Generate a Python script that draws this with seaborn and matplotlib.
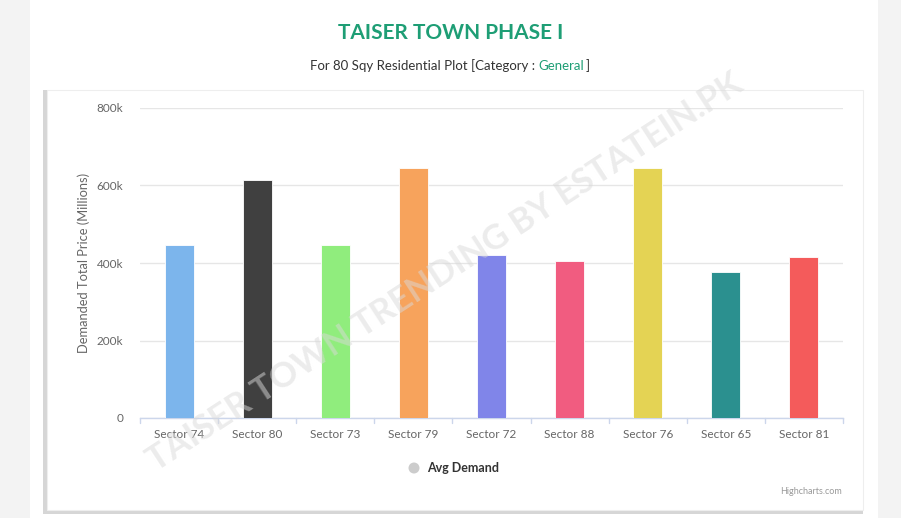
import matplotlib
matplotlib.use("Agg")
import matplotlib.pyplot as plt
import matplotlib.patches as mpatches
import seaborn as sns
import pandas as pd
from matplotlib.ticker import FuncFormatter

# ---- data ----
SECTORS = ["Sector 74", "Sector 80", "Sector 73", "Sector 79", "Sector 72",
           "Sector 88", "Sector 76", "Sector 65", "Sector 81"]
AVG_DEMAND = [447000, 614000, 446000, 645000, 421000,
              405000, 645000, 377000, 415000]
BAR_COLORS = ["#7cb5ec", "#404040", "#90ed7d", "#f7a35c", "#8085e9",
              "#f15c80", "#e4d354", "#2b908f", "#f45b5b"]
Y_TICKS = [0, 200000, 400000, 600000, 800000]

TITLE = "TAISER TOWN PHASE I"
SUBTITLE = "For 80 Sqy Residential Plot [Category : "
SUBTITLE_CAT = "General"
YLABEL = "Demanded Total Price (Millions)"
LEGEND_NAME = "Avg Demand"
WATERMARK = "TAISER TOWN TRENDING BY ESTATEIN.PK"

W, H = 901, 518
sns.set_theme(style="white")
plt.rcParams["font.family"] = ["Lato", "DejaVu Sans"]

fig = plt.figure(figsize=(W / 100, H / 100), dpi=100)
fig.patch.set_facecolor("#f3f3f3")

def fx(px):
    return px / W

def fy(py):
    return 1 - py / H

# white card
fig.patches.append(mpatches.Rectangle((fx(30), 0), fx(848), 1, transform=fig.transFigure,
                                      facecolor="white", edgecolor="none", zorder=-3))
# inner chart box with shadow on left/bottom
fig.patches.append(mpatches.Rectangle((fx(43), fy(514)), fx(820), fy(90) - fy(514),
                                      transform=fig.transFigure, facecolor="#d6d6d6",
                                      edgecolor="none", zorder=-2))
fig.patches.append(mpatches.Rectangle((fx(47), fy(510)), fx(816), fy(90) - fy(510),
                                      transform=fig.transFigure, facecolor="white",
                                      edgecolor="#eeeeee", linewidth=0.8, zorder=-1))

ax = fig.add_axes([fx(140), fy(418), fx(843 - 140), fy(108) - fy(418)])
ax.set_facecolor("none")

df = pd.DataFrame({"sector": SECTORS, "demand": AVG_DEMAND})
sns.barplot(data=df, x="sector", y="demand", hue="sector", palette=BAR_COLORS,
            width=0.37, legend=False, ax=ax, saturation=1, edgecolor="white",
            linewidth=0.6, zorder=3)

ax.set_ylim(0, 800000)
ax.set_xlim(-0.5, len(SECTORS) - 0.5)
ax.set_yticks(Y_TICKS)
ax.yaxis.set_major_formatter(FuncFormatter(lambda v, _: "0" if v == 0 else f"{int(v / 1000)}k"))
ax.grid(axis="y", color="#e6e6e6", linewidth=1, zorder=0)
for s in ["top", "right", "left"]:
    ax.spines[s].set_visible(False)
ax.spines["bottom"].set_color("#ccd6eb")
ax.spines["bottom"].set_linewidth(1)
ax.tick_params(axis="y", length=0, pad=12, labelsize=8.5, labelcolor="#666666")
ax.tick_params(axis="x", length=0, pad=8, labelsize=8.5, labelcolor="#666666")
# category boundary ticks like highcharts
for b in range(len(SECTORS) + 1):
    ax.plot([b - 0.5, b - 0.5], [0, -12000], color="#ccd6eb", linewidth=1,
            clip_on=False, zorder=2)
ax.set_xlabel("")
ax.set_ylabel(YLABEL, fontsize=9.3, color="#666666", labelpad=5)

# titles
fig.text(0.5, fy(33), TITLE, ha="center", va="center", fontsize=15, fontweight="bold",
         color="#1e9e75")
sub = fig.text(fx(310), fy(66), SUBTITLE, ha="left", va="center", fontsize=9.5,
               color="#333333")
fig.canvas.draw()
bb = sub.get_window_extent()
sub2 = fig.text(bb.x1 / W, fy(66), SUBTITLE_CAT, ha="left", va="center", fontsize=9.5,
                color="#1e9e75")
bb2 = sub2.get_window_extent()
fig.text(bb2.x1 / W + 0.002, fy(66), "]", ha="left", va="center", fontsize=9.5,
         color="#333333")

# legend
fig.patches.append(mpatches.Ellipse((fx(414), fy(468)), fx(11), fy(457) - fy(468),
                                    transform=fig.transFigure, facecolor="#cccccc",
                                    edgecolor="none"))
fig.text(fx(427), fy(468), LEGEND_NAME, ha="left", va="center", fontsize=9,
         fontweight="bold", color="#333333")

# credit
fig.text(fx(842), fy(491), "Highcharts.com", ha="right", va="center", fontsize=6.5,
         color="#999999")

# watermark
fig.text(fx(445), fy(272), WATERMARK, ha="center", va="center", fontsize=25,
         fontweight="bold", color="#d9d9d9", alpha=0.5, rotation=33, zorder=10)

fig.savefig("out.png", dpi=100)
